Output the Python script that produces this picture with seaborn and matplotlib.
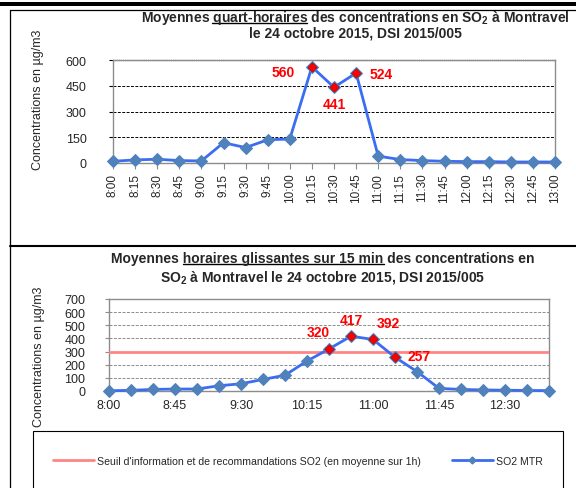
import matplotlib
matplotlib.use("Agg")
import matplotlib.pyplot as plt
from matplotlib.lines import Line2D
from matplotlib.patches import Rectangle
import seaborn as sns
import pandas as pd

# données
heures = ["8:00", "8:15", "8:30", "8:45", "9:00", "9:15", "9:30", "9:45", "10:00",
          "10:15", "10:30", "10:45", "11:00", "11:15", "11:30", "11:45", "12:00",
          "12:15", "12:30", "12:45", "13:00"]
so2_quart = [10, 18, 22, 14, 12, 118, 90, 135, 140, 560, 441, 524, 40, 20, 14, 10,
             8, 8, 6, 6, 6]
so2_glissant = [2, 5, 12, 15, 15, 40, 55, 88, 120, 228, 320, 417, 392, 257, 148, 20,
                12, 8, 6, 4, 3]
seuil_info = 300
pics_quart = ["10:15", "10:30", "10:45"]
pics_glissant = ["10:30", "10:45", "11:00", "11:15"]

bleu_ligne = "#3A6DF2"
bleu_mk = "#4F81BD"
rouge = "#FF0000"
rose = "#FF8585"

sns.set_style("white")
plt.rcParams["font.family"] = ["Liberation Sans", "DejaVu Sans"]
plt.rcParams["mathtext.fontset"] = "custom"
plt.rcParams["mathtext.rm"] = "Liberation Sans"
plt.rcParams["mathtext.bf"] = "Liberation Sans:bold"

W, H = 576, 489
fig = plt.figure(figsize=(W / 100, H / 100), dpi=100)
rend = fig.canvas.get_renderer()


def fx(px):
    return px / W


def fy(py):
    return 1 - py / H


def largeur(s, fs):
    tmp = fig.text(0, 0, s, fontsize=fs, fontweight="bold")
    w = tmp.get_window_extent(rend).width
    tmp.remove()
    return w


def titre(xc, yb, texte, souligne=None, fs=10):
    t = fig.text(fx(xc), fy(yb), texte, ha="center", va="baseline",
                 fontsize=fs, fontweight="bold")
    if souligne:
        bb = t.get_window_extent(rend)
        i = texte.index(souligne)
        x0 = bb.x0 + largeur(texte[:i] + "x", fs) - largeur("x", fs)
        x1 = bb.x0 + largeur(texte[:i] + souligne, fs)
        y = (H - yb - 2) / H
        fig.add_artist(Line2D([x0 / W, x1 / W], [y, y], color="black", lw=1))


def trace(ax, valeurs, pics, etiquettes):
    df = pd.DataFrame({"heure": heures, "so2": valeurs})
    df["pos"] = range(len(df))
    sns.lineplot(data=df, x="pos", y="so2", ax=ax, color=bleu_ligne, lw=2,
                 marker="D", markersize=6, markerfacecolor=bleu_mk,
                 markeredgecolor=bleu_mk, clip_on=False, zorder=4)
    rouges = df[df["heure"].isin(pics)]
    sns.scatterplot(data=rouges, x="pos", y="so2", ax=ax, marker="D", s=22,
                    color=rouge, edgecolor="#C00000", linewidth=0.5, zorder=5,
                    clip_on=False)
    for (_, r), (dx, dy) in zip(rouges.iterrows(), etiquettes):
        ax.annotate(str(r["so2"]), (r["pos"], r["so2"]), xytext=(dx, dy),
                    textcoords="offset pixels", ha="center", va="center",
                    color=rouge, fontsize=10, fontweight="bold")
    ax.set_xlim(0, len(heures) - 1)
    ax.set_xlabel("")
    for s in ax.spines.values():
        s.set_color("#8C8C8C")
        s.set_linewidth(1)
    return df


# ---- graphique du haut : moyennes quart-horaires
ax1 = fig.add_axes([fx(113), fy(164), fx(555) - fx(113), fy(61) - fy(164)])
trace(ax1, so2_quart, pics_quart, [(-29, -5), (0, -17), (25, -1)])
ax1.set_ylim(0, 600)
ax1.set_yticks(range(0, 601, 150))
ax1.set_xticks(range(len(heures)))
ax1.set_xticklabels(heures, rotation=90)
ax1.yaxis.grid(True, color="black", ls=(0, (3, 1.5)), lw=0.7)
ax1.set_axisbelow(True)
ax1.spines["top"].set_linestyle((0, (1, 0.5)))
ax1.tick_params(axis="x", direction="out", length=4, color="#8C8C8C", pad=3,
                labelsize=8.5, bottom=True)
ax1.tick_params(axis="y", length=3, color="black", pad=16, labelsize=9, left=True)
ax1.set_ylabel("Concentrations en µg/m3", fontsize=9)
ax1.yaxis.set_label_coords(fx(44), fy(100), transform=fig.transFigure)

titre(355, 22, r"Moyennes quart-horaires des concentrations en SO$_\mathbf{2}$ à Montravel",
      "quart-horaires")
titre(355, 38, "le 24 octobre 2015, DSI 2015/005")

# ---- graphique du bas : moyennes horaires glissantes
ax2 = fig.add_axes([fx(109), fy(392), fx(549) - fx(109), fy(300) - fy(392)])
ax2.axhline(seuil_info, color=rose, lw=2, zorder=3)
trace(ax2, so2_glissant, pics_glissant, [(-11, 17), (0, 16), (15, 16), (24, 1)])
ax2.set_ylim(0, 700)
ax2.set_yticks(range(0, 701, 100))
ax2.set_xticks(range(0, len(heures), 3))
ax2.set_xticklabels(heures[::3])
ax2.yaxis.grid(True, color="#8C8C8C", ls=(0, (3, 1.5)), lw=0.7)
ax2.set_axisbelow(True)
ax2.tick_params(axis="x", length=0, pad=6, labelsize=9)
ax2.tick_params(axis="y", length=3, color="#8C8C8C", pad=14, labelsize=9, left=True)
ax2.set_ylabel("Concentrations en µg/m3", fontsize=9)
ax2.yaxis.set_label_coords(fx(45), fy(357), transform=fig.transFigure)

titre(323, 263, "Moyennes horaires glissantes sur 15 min des concentrations en",
      "horaires glissantes sur 15 min")
titre(323, 282, r"SO$_\mathbf{2}$ à Montravel le 24 octobre 2015, DSI 2015/005")

# légende dans son cadre
poignees = [Line2D([], [], color=rose, lw=2),
            Line2D([], [], color=bleu_ligne, lw=2, marker="D", ms=3.5,
                   markerfacecolor=bleu_mk, markeredgecolor=bleu_mk)]
fig.legend(poignees, ["Seuil d'information et de recommandations SO2 (en moyenne sur 1h)",
                      "SO2 MTR"],
           loc="center", bbox_to_anchor=(fx(298), fy(462)), ncol=2, frameon=False,
           fontsize=7.6, handlelength=3.9, columnspacing=2.9, handletextpad=0.3)
fig.add_artist(Rectangle((fx(33), -0.05), fx(563) - fx(33), fy(432) + 0.05,
                         transform=fig.transFigure, fill=False, edgecolor="black", lw=0.8))

# cadres de la page
fig.add_artist(Rectangle((0, fy(7)), 1, 4 / H, transform=fig.transFigure,
                         color="black", lw=0))
fig.add_artist(Line2D([fx(10), 1], [fy(11), fy(11)], color="black", lw=0.9))
fig.add_artist(Line2D([fx(10), fx(10)], [fy(11), 0], color="black", lw=0.9))
fig.add_artist(Line2D([fx(10), 1], [fy(247), fy(247)], color="black", lw=1.5))

fig.savefig("out.png", dpi=100)
